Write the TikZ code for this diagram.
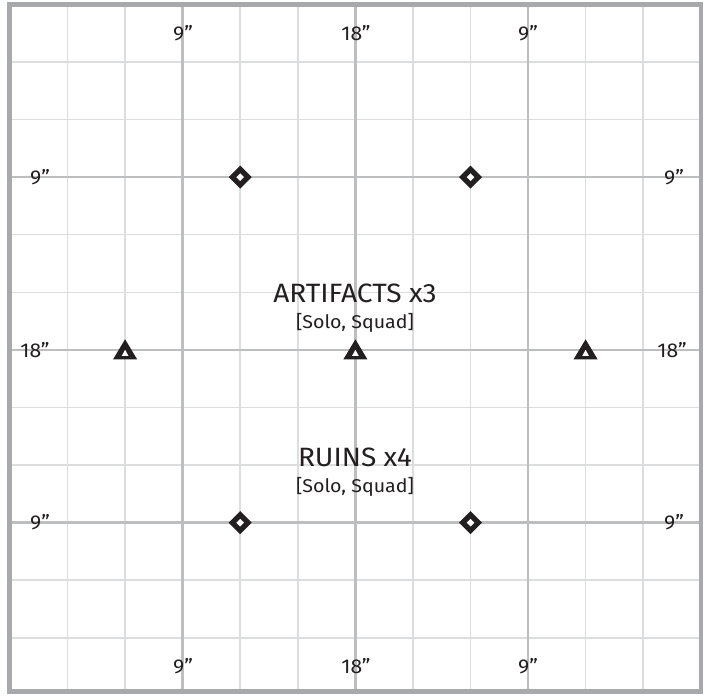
\documentclass[tikz,border=0pt]{standalone}
\usepackage{fontspec}
\setmainfont[FakeStretch=1.06]{Fira Sans}
\definecolor{framegray}{HTML}{A7A9AC}
\definecolor{majorgray}{HTML}{BCBEC0}
\definecolor{minorgray}{HTML}{DCDDDE}
\definecolor{ink}{HTML}{231F20}
\tikzset{
  minorline/.style={draw=minorgray, line width=1.5},
  majorline/.style={draw=majorgray, line width=2.4},
  framebox/.style={draw=framegray, line width=4.7},
  ticklabel/.style={text=ink, inner sep=0pt, font=\fontsize{20}{24}\selectfont},
  titlelabel/.style={text=ink, inner sep=0pt, font=\fontsize{26.5}{30}\selectfont},
  sublabel/.style={text=ink, inner sep=0pt, font=\fontsize{18.5}{22}\selectfont},
  pics/diam/.style={code={
    \fill[ink] (-11.5,0) -- (0,-11.5) -- (11.5,0) -- (0,11.5) -- cycle;
    \fill[white] (-3.8,0) -- (0,-3.8) -- (3.8,0) -- (0,3.8) -- cycle;
  }},
  pics/tri/.style={code={
    \fill[ink] (-12,9.5) -- (0,-10.5) -- (12,9.5) -- cycle;
    \fill[white] (-3.3,6) -- (0,0) -- (3.3,6) -- cycle;
  }}
}
\begin{document}
\begin{tikzpicture}[x=1pt,y=-1pt]
\useasboundingbox (0,0) rectangle (711,700);
\fill[white] (0,0) rectangle (711,700);
% minor grid
\foreach \i in {1,2,4,5,7,8,10,11}{
  \draw[minorline] ({9.9+\i*57.575},4.5) -- ({9.9+\i*57.575},691.7);
  \draw[minorline] (9.7,{4.4+\i*57.58}) -- (701,{4.4+\i*57.58});
}
% major grid
\foreach \i in {3,6,9}{
  \draw[majorline] ({9.9+\i*57.575},4.5) -- ({9.9+\i*57.575},691.7);
  \draw[majorline] (9.7,{4.4+\i*57.58}) -- (701,{4.4+\i*57.58});
}
% frame
\draw[framebox] (9.7,4.5) rectangle (701,691.7);
% edge labels
\node[ticklabel] (t1) at (183,33) {9”};
\node[ticklabel] (t2) at (356,33) {18”};
\node[ticklabel] (t3) at (528,33) {9”};
\node[ticklabel] (b1) at (183,666) {9”};
\node[ticklabel] (b2) at (356,666) {18”};
\node[ticklabel] (b3) at (528,666) {9”};
\node[ticklabel] (l1) at (40,177.5) {9”};
\node[ticklabel] (l2) at (35,350) {18”};
\node[ticklabel] (l3) at (40,522.5) {9”};
\node[ticklabel] (r1) at (674,177.5) {9”};
\node[ticklabel] (r2) at (672,350) {18”};
\node[ticklabel] (r3) at (674,522.5) {9”};
% objective labels
\node[titlelabel] (art) at (355,293) {ARTIFACTS x3};
\node[sublabel] (artsub) at (355,322.5) {[Solo, Squad]};
\node[titlelabel] (ruin) at (355,457.5) {RUINS x4};
\node[sublabel] (ruinsub) at (355,486.5) {[Solo, Squad]};
% markers
\pic at (240.2,177.2) {diam};
\pic at (470.5,177.2) {diam};
\pic at (240.2,522.7) {diam};
\pic at (470.5,522.7) {diam};
\pic at (125.1,349.8) {tri};
\pic at (355.4,349.8) {tri};
\pic at (585.6,349.8) {tri};
\end{tikzpicture}
\end{document}
